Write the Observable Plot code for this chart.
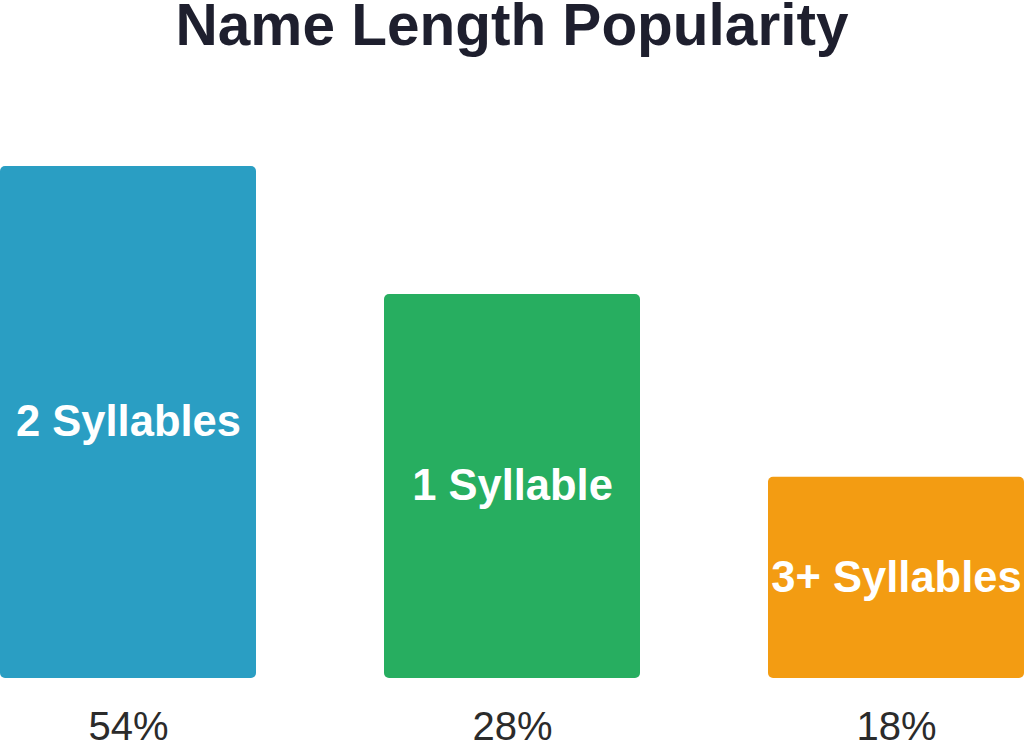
<!DOCTYPE html>
<html>
<head>
<meta charset="utf-8">
<script src="https://cdn.jsdelivr.net/npm/d3@7"></script>
<script src="https://cdn.jsdelivr.net/npm/@observablehq/plot@0.6"></script>
<style>
  html, body { margin: 0; padding: 0; background: #ffffff; }
  body { width: 1024px; height: 743px; overflow: hidden; font-family: "Liberation Sans", Arial, sans-serif; }
  #title { height: 60px; margin: 0; text-align: center; font-size: 58.5px; font-weight: bold; line-height: 50px; color: #1e1f2e; }
  svg { display: block; }
</style>
</head>
<body>
<div id="title">Name Length Popularity</div>
<div id="chart"></div>
<script>
const categories = ["2 Syllables", "1 Syllable", "3+ Syllables"];
const shares = [54, 28, 18];
// relative bar heights as drawn in the picture (tallest = 100)
const barHeights = [100, 75, 39.3];
const colors = ["#2a9ec3", "#27ae60", "#f39c12"];

const data = categories.map((c, i) => ({
  category: c,
  share: shares[i],
  height: barHeights[i],
  color: colors[i]
}));

const chart = Plot.plot({
  width: 1024,
  height: 683,
  marginTop: 106,
  marginBottom: 65,
  marginLeft: 0,
  marginRight: 0,
  style: { fontFamily: "'Liberation Sans', Arial, sans-serif", background: "#ffffff" },
  x: { domain: categories, axis: null, paddingInner: 1 / 3, paddingOuter: 0 },
  y: { domain: [0, 100], axis: null },
  marks: [
    Plot.barY(data, { x: "category", y: "height", fill: "color", rx: 5 }),
    Plot.text(data, {
      x: "category", y: d => d.height / 2, text: "category",
      fill: "#ffffff", fontSize: 43.5, fontWeight: "bold"
    }),
    Plot.text(data, {
      x: "category", y: () => 0, dy: 49, text: d => d.share + "%",
      fill: "#2b2b2b", fontSize: 40
    })
  ]
});
document.getElementById("chart").appendChild(chart);
</script>
</body>
</html>
